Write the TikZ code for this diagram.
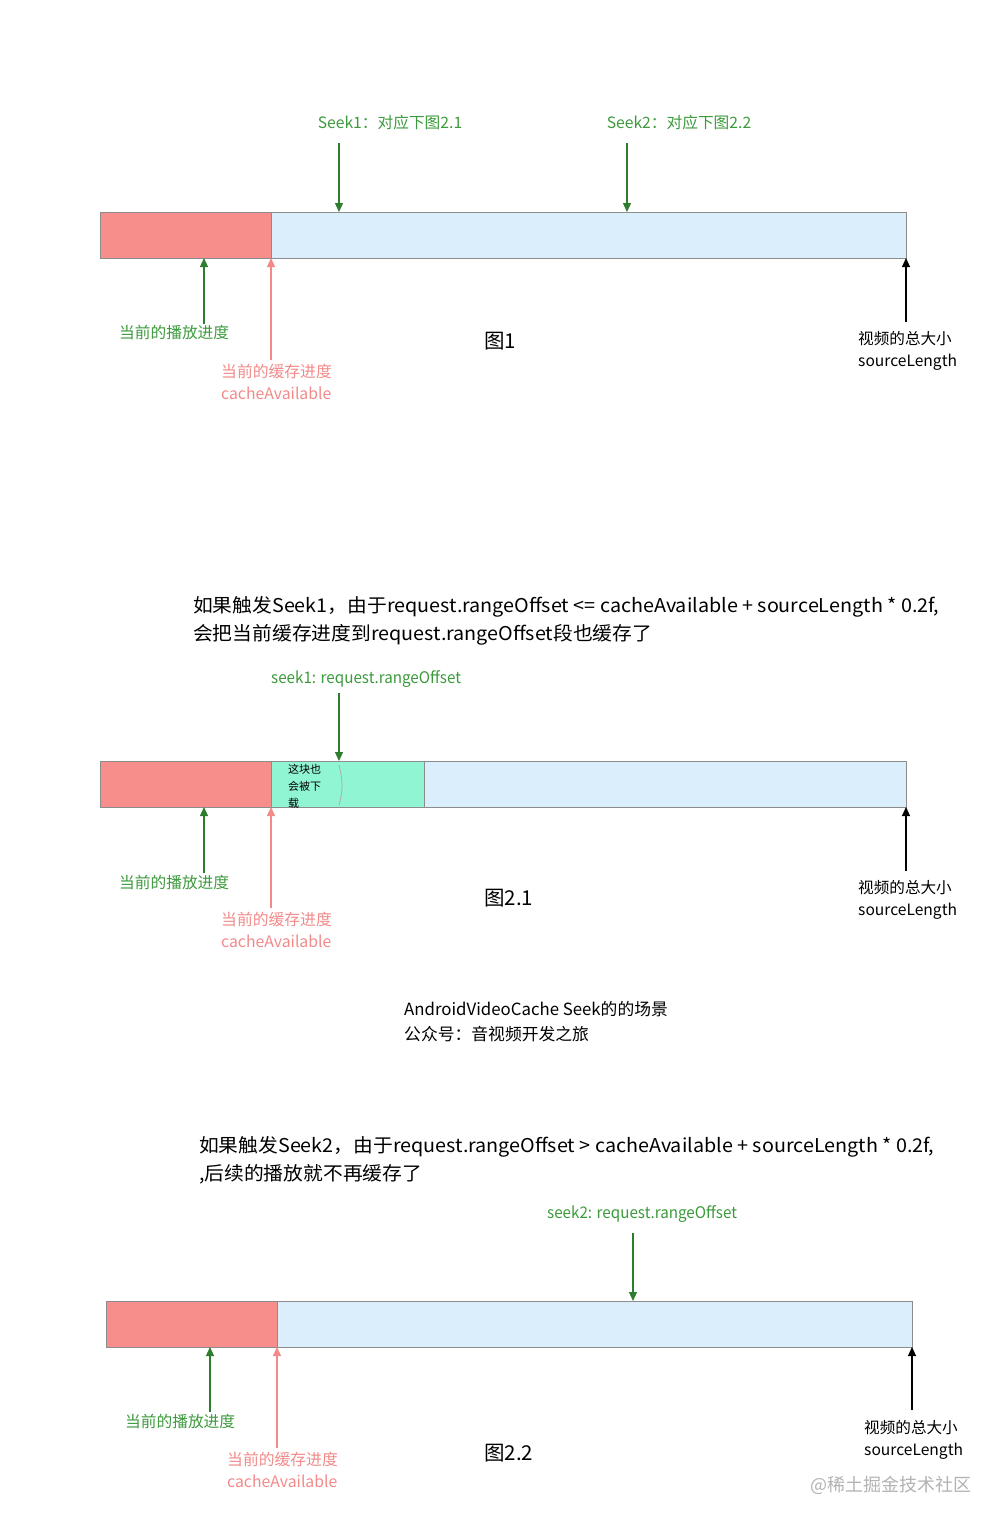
\documentclass[tikz,border=0pt]{standalone}
\usepackage{fontspec}
\setmainfont{Noto Sans CJK SC}
\newfontfamily\condfont[FakeStretch=0.95]{Noto Sans CJK SC}
\newfontfamily\parafont[FakeStretch=1.04]{Noto Sans CJK SC}
\usetikzlibrary{arrows.meta}
\definecolor{redfill}{HTML}{F78E8B}
\definecolor{bluefill}{HTML}{DAEEFB}
\definecolor{greenfill}{HTML}{90F5D2}
\definecolor{barline}{HTML}{8C8C8C}
\definecolor{gtext}{HTML}{3C9A3C}
\definecolor{garr}{HTML}{2E7D2E}
\definecolor{ptext}{HTML}{F28A8A}
\tikzset{
  seg/.style={draw=barline, line width=1.2pt, anchor=north west, inner sep=0pt, minimum height=46pt},
  garrow/.style={draw=garr, line width=1.1pt, -{Triangle[length=9pt,width=8pt]}},
  parrow/.style={draw=ptext, line width=1.1pt, -{Triangle[length=9pt,width=8pt]}},
  karrow/.style={draw=black, line width=1.1pt, -{Triangle[length=9pt,width=8pt]}},
  glabel/.style={text=gtext, font=\fontsize{15.7}{18}\selectfont, inner sep=0pt},
  plabel/.style={text=ptext, font=\fontsize{15.8}{22}\selectfont, inner sep=0pt, anchor=north west, align=left},
  klabel/.style={text=black, font=\fontsize{15.6}{22}\selectfont, inner sep=0pt, anchor=north west, align=left},
  fig/.style={text=black, font=\fontsize{20.5}{22}\selectfont, inner sep=0pt, anchor=west},
  para/.style={text=black, font=\parafont\fontsize{19}{28}\selectfont, inner sep=0pt, anchor=north west, align=left},
  seeklab/.style={text=gtext, font=\condfont\fontsize{16}{18}\selectfont, inner sep=0pt, anchor=west},
}
\begin{document}
\begin{tikzpicture}[x=1pt,y=-1pt]
\useasboundingbox (0,0) rectangle (1002,1527);

% ===== Figure 1 =====
\node[glabel] (s1lab) at (390,123) {Seek1：对应下图2.1};
\node[glabel] (s2lab) at (679,123) {Seek2：对应下图2.2};
\node[seg, fill=redfill, minimum width=171pt] (r1) at (100,212) {};
\node[seg, fill=bluefill, minimum width=635pt] (b1) at (271,212) {};
\coordinate (s1a) at (339,143); \coordinate (s1b) at (339,212);
\coordinate (s2a) at (627,143); \coordinate (s2b) at (627,212);
\draw[garrow] (s1a) -- (s1b);
\draw[garrow] (s2a) -- (s2b);
\node[glabel, anchor=west] (play1) at (119,333) {当前的播放进度};
\coordinate (g1a) at (204,324); \coordinate (g1b) at (204,258);
\draw[garrow] (g1a) -- (g1b);
\node[plabel] (cache1) at (221,364) {当前的缓存进度\\cacheAvailable};
\coordinate (p1a) at (271,360); \coordinate (p1b) at (271,258);
\draw[parrow] (p1a) -- (p1b);
\node[klabel] (tot1) at (858,331) {视频的总大小\\sourceLength};
\coordinate (k1a) at (906,322); \coordinate (k1b) at (906,258);
\draw[karrow] (k1a) -- (k1b);
\node[fig] (f1) at (484,341) {图1};

% ===== Figure 2.1 =====
\node[para] (t21) at (193,596) {如果触发Seek1，由于request.rangeOffset <= cacheAvailable + sourceLength * 0.2f,\\会把当前缓存进度到request.rangeOffset段也缓存了};
\node[seeklab] (sk1) at (271,679) {seek1: request.rangeOffset};
\node[seg, fill=redfill, minimum width=171pt] (r2) at (100,761) {};
\node[seg, fill=greenfill, minimum width=153pt] (gr2) at (271,761) {};
\node[seg, fill=bluefill, minimum width=482pt] (b2) at (424,761) {};
\node[text=black, font=\fontsize{11}{17}\selectfont, inner sep=0pt, anchor=north west, align=left] (note) at (288,764) {这块也\\会被下\\载};
\draw[barline!70, line width=0.8pt] (339,765) .. controls (343,780) and (343,792) .. (339,805);
\coordinate (k1s) at (339,693); \coordinate (k1e) at (339,761);
\draw[garrow] (k1s) -- (k1e);
\node[glabel, anchor=west] (play2) at (119,882) {当前的播放进度};
\coordinate (g2a) at (204,873); \coordinate (g2b) at (204,807);
\draw[garrow] (g2a) -- (g2b);
\node[plabel] (cache2) at (221,912) {当前的缓存进度\\cacheAvailable};
\coordinate (p2a) at (271,908); \coordinate (p2b) at (271,807);
\draw[parrow] (p2a) -- (p2b);
\node[klabel] (tot2) at (858,880) {视频的总大小\\sourceLength};
\coordinate (k2a) at (906,871); \coordinate (k2b) at (906,807);
\draw[karrow] (k2a) -- (k2b);
\node[fig] (f21) at (484,898) {图2.1};

\node[text=black, font=\fontsize{16.8}{25}\selectfont, inner sep=0pt, anchor=north west, align=left] (title) at (404,1001) {AndroidVideoCache Seek的的场景\\公众号：音视频开发之旅};

% ===== Figure 2.2 =====
\node[para] (t22) at (199,1136) {如果触发Seek2，由于request.rangeOffset > cacheAvailable + sourceLength * 0.2f,\\,后续的播放就不再缓存了};
\node[seeklab] (sk2) at (547,1214) {seek2: request.rangeOffset};
\node[seg, fill=redfill, minimum width=171pt] (r3) at (106,1301) {};
\node[seg, fill=bluefill, minimum width=635pt] (b3) at (277,1301) {};
\coordinate (k3s) at (633,1233); \coordinate (k3e) at (633,1301);
\draw[garrow] (k3s) -- (k3e);
\node[glabel, anchor=west] (play3) at (125,1421) {当前的播放进度};
\coordinate (g3a) at (210,1412); \coordinate (g3b) at (210,1347);
\draw[garrow] (g3a) -- (g3b);
\node[plabel] (cache3) at (227,1452) {当前的缓存进度\\cacheAvailable};
\coordinate (p3a) at (277,1448); \coordinate (p3b) at (277,1347);
\draw[parrow] (p3a) -- (p3b);
\node[klabel] (tot3) at (864,1420) {视频的总大小\\sourceLength};
\coordinate (k4a) at (912,1410); \coordinate (k4b) at (912,1347);
\draw[karrow] (k4a) -- (k4b);
\node[fig] (f22) at (484,1453) {图2.2};

\node[text=black!30, font=\fontsize{18}{20}\selectfont, inner sep=0pt, anchor=west] (wm) at (810,1485) {@稀土掘金技术社区};
\end{tikzpicture}
\end{document}
